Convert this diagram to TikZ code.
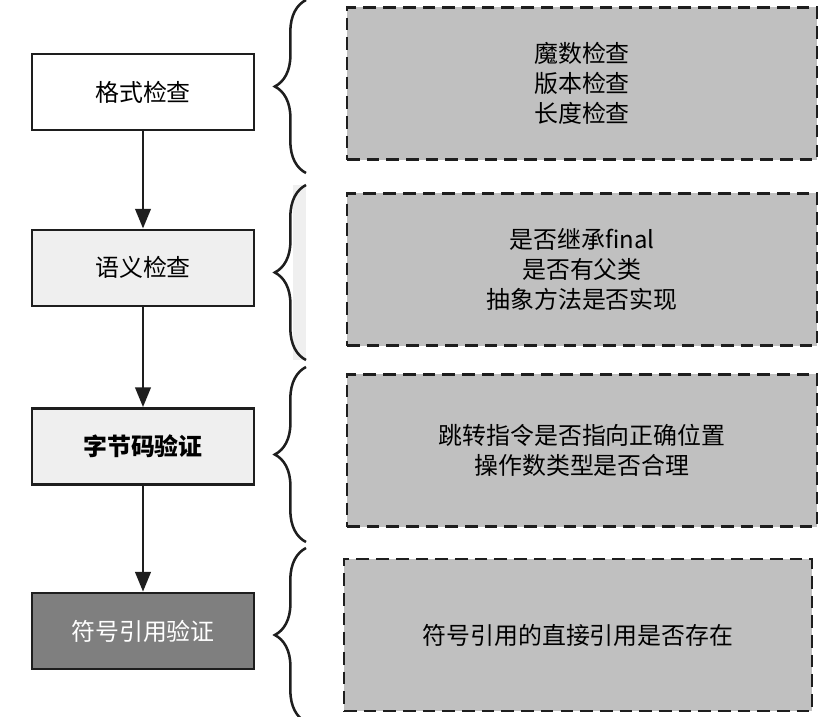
\documentclass[tikz,border=0pt]{standalone}
\usepackage{fontspec}
\setmainfont{Noto Sans CJK SC}
\usepackage{tikz}
\usetikzlibrary{arrows.meta,positioning,decorations.pathreplacing}
\definecolor{lineDark}{HTML}{1E1E1E}
\definecolor{stageLight}{HTML}{EFEFEF}
\definecolor{stageDark}{HTML}{7F7F7F}
\definecolor{checkFill}{HTML}{C0C0C0}

\begin{document}
\begin{tikzpicture}[
  x=0.025cm, y=-0.025cm,
  stage/.style={draw=lineDark, line width=1.8pt, minimum width=5.55cm, minimum height=1.9cm,
                inner sep=0pt, font=\fontsize{17}{21}\selectfont},
  check/.style={draw=lineDark, fill=checkFill, line width=1.8pt, dash pattern=on 9pt off 5pt,
                minimum width=11.75cm, minimum height=3.8cm, align=center,
                font=\fontsize{17}{21.3}\selectfont},
  flow/.style={-{Triangle[length=14pt, width=11pt]}, line width=1.8pt, lineDark},
  curly/.style={decorate, decoration={brace, amplitude=0.78cm}, line width=1.8pt, lineDark}
]
  \useasboundingbox (0,0) rectangle (821,716);
  \clip (0,0) rectangle (821,716);

  % Stages
  \node[stage, fill=white] (fmt) at (143,92) {格式检查};
  \node[stage, fill=stageLight, below=2.43cm of fmt] (sem) {语义检查};
  \node[stage, fill=stageLight, below=2.5cm of sem, font=\fontsize{17}{21}\selectfont\bfseries] (bc) {字节码验证};
  \node[stage, fill=stageDark, text=white, below=2.65cm of bc] (sym) {符号引用验证};

  % Arrows
  \draw[flow] (fmt) -- (sem);
  \draw[flow] (sem) -- (bc);
  \draw[flow] (bc) -- (sym);

  % Braces
  \fill[stageLight] (293,185) rectangle (306,360);
  \draw[curly] (306,173) -- (306,0);
  \draw[curly] (306,360) -- (306,185);
  \draw[curly] (306,542) -- (306,367);
  \draw[curly] (306,722) -- (306,548);

  % Checks
  \node[check] (fmtchk) at (582,83.5) {魔数检查\\版本检查\\长度检查};
  \node[check] (semchk) at (582,269.5) {是否继承final\\是否有父类\\抽象方法是否实现};
  \node[check] (bcchk) at (582,450.5) {跳转指令是否指向正确位置\\操作数类型是否合理};
  \node[check, minimum width=11.7cm] (symchk) at (578,635) {符号引用的直接引用是否存在};

\end{tikzpicture}
\end{document}
